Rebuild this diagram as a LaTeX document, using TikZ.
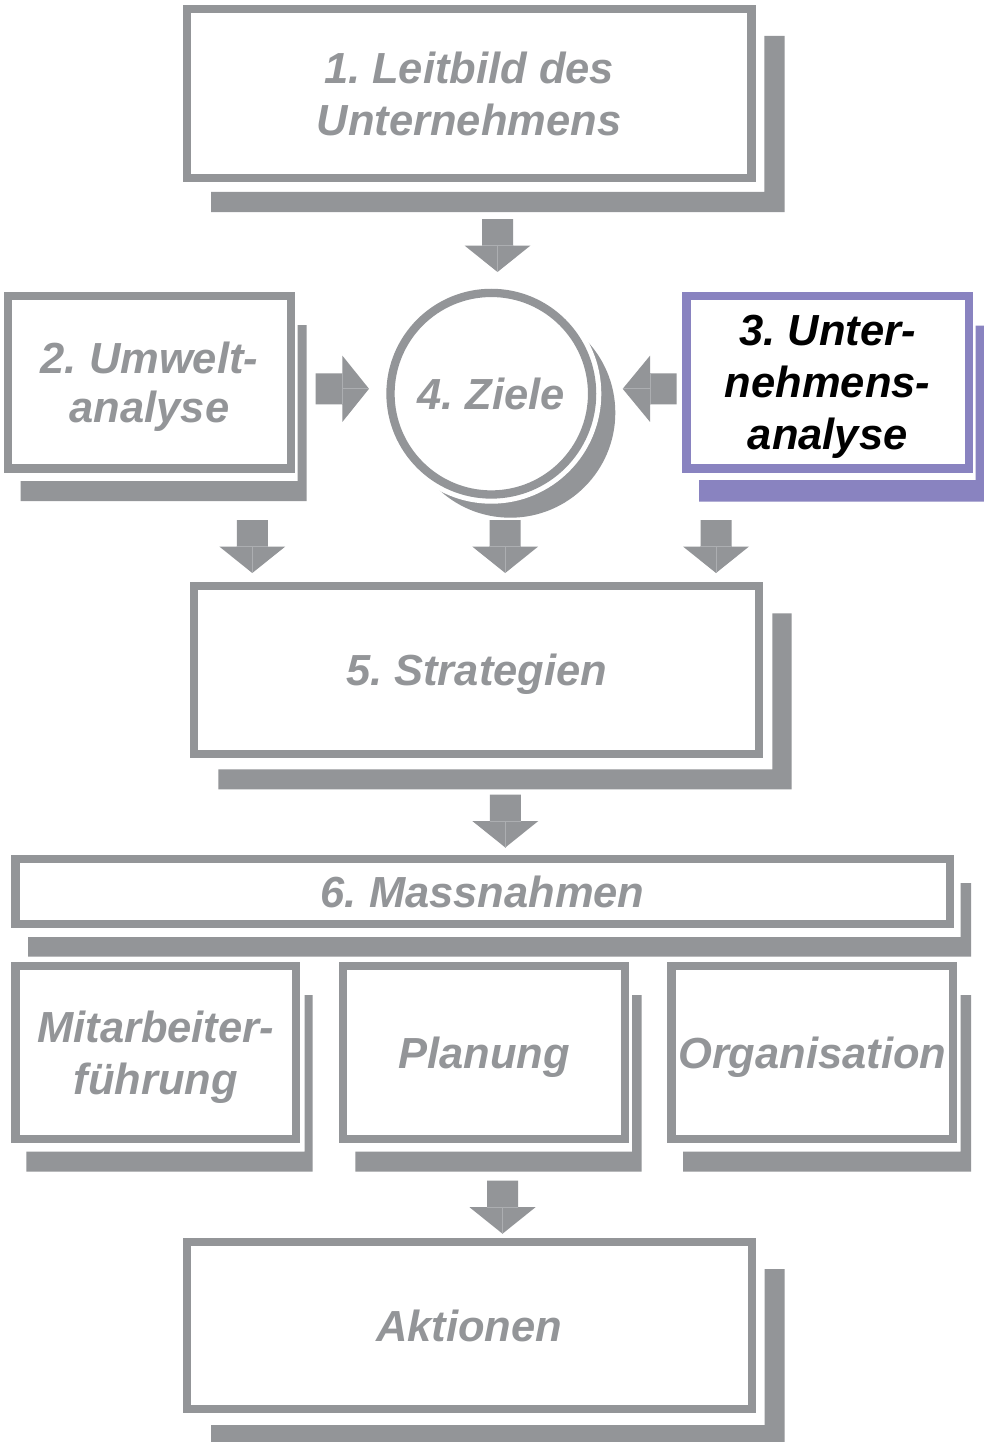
\documentclass[tikz,border=0pt]{standalone}
\usepackage{fontspec}
\setmainfont{Liberation Sans}
\usetikzlibrary{calc}
\frenchspacing

\definecolor{framegray}{RGB}{147,149,152}
\definecolor{seamgray}{RGB}{172,174,177}
\definecolor{framepurple}{RGB}{137,131,192}

\tikzset{
  panel/.style={draw=framegray, line width=8.3pt, fill=white, inner sep=0pt,
    text=framegray, align=center, text depth=0pt,
    font={\fontsize{43.5}{52}\selectfont\bfseries\itshape}},
  ring/.style={circle, draw=framegray, line width=8.3pt, fill=white, inner sep=0pt,
    minimum size=201.6pt, text=framegray,
    font={\fontsize{43.5}{52}\selectfont\bfseries\itshape}},
  blockfill/.style={fill=framegray},
  seam/.style={draw=seamgray, line width=0.7pt},
}

% rectangular panel: name, x1, x2, y1, y2, extra style, text
\newcommand{\panelbox}[7]{%
  \node[panel, #6, minimum width={#3-#2-8.3}, minimum height={#5-#4-8.3}]
    (#1) at ({(#2+#3)/2},{(#4+#5)/2}) {#7};}

% L-shaped drop shadow: colour, left, bar left, right, top, bar top, bottom
\newcommand{\shadowL}[7]{%
  \fill[#1] (#3,#5) -- (#4,#5) -- (#4,#7) -- (#2,#7) -- (#2,#6) -- (#3,#6) -- cycle;}

% block arrow pointing down: name, centre x, top y
\newcommand{\downblock}[3]{%
  \coordinate (#1) at (#2,#3);
  \fill[blockfill] ($(#1)+(-15.5,0)$) -- ++(31,0) -- ++(0,26.5) -- ++(17.5,0)
    -- ($(#1)+(0,53)$) -- ($(#1)+(-33,26.5)$) -- ++(17.5,0) -- cycle;
  \path[seam] ($(#1)+(-15.5,26.5)$) -- ++(31,0) ($(#1)+(0,26.5)$) -- ++(0,26.5);}

% block arrow pointing right: name, left x, centre y
\newcommand{\rightblock}[3]{%
  \coordinate (#1) at (#2,#3);
  \fill[blockfill] ($(#1)+(0,-15.5)$) -- ++(26.7,0) -- ++(0,-17.6)
    -- ($(#1)+(53.3,0)$) -- ($(#1)+(26.7,33.1)$) -- ++(0,-17.6) -- ($(#1)+(0,15.5)$) -- cycle;
  \path[seam] ($(#1)+(26.7,-15.5)$) -- ++(0,31) ($(#1)+(26.7,0)$) -- ++(26.6,0);}

% block arrow pointing left: name, right x, centre y
\newcommand{\leftblock}[3]{%
  \coordinate (#1) at (#2,#3);
  \fill[blockfill] ($(#1)+(0,-15.5)$) -- ++(-26.7,0) -- ++(0,-17.6)
    -- ($(#1)+(-54,0)$) -- ($(#1)+(-26.7,33.1)$) -- ++(0,-17.6) -- ($(#1)+(0,15.5)$) -- cycle;
  \path[seam] ($(#1)+(-26.7,-15.5)$) -- ++(0,31) ($(#1)+(-26.7,0)$) -- ++(-27.3,0);}

\begin{document}
\begin{tikzpicture}[x=1pt, y=-1pt]
  \path[use as bounding box, clip] (0,0) rectangle (984,1442);
  \fill[white] (0,0) rectangle (984,1442);

  % drop shadows
  \shadowL{framegray}{211}{764.4}{784.5}{36}{192}{212}
  \shadowL{framegray}{20.7}{297.7}{306.7}{325}{481}{501}
  \shadowL{framepurple}{699}{975.7}{984}{325.7}{480}{501.5}
  \shadowL{framegray}{218.4}{772.3}{791.7}{613.3}{769.3}{789.3}
  \shadowL{framegray}{28}{960.5}{971}{883}{937}{956.7}
  \shadowL{framegray}{26.4}{304.5}{312.6}{995}{1151.7}{1171.7}
  \shadowL{framegray}{355.3}{632}{641.6}{995}{1151.7}{1171.7}
  \shadowL{framegray}{683}{960.5}{971}{995}{1151.7}{1171.7}
  \shadowL{framegray}{211}{764.6}{784.7}{1269}{1425}{1442}

  % goals circle with its shadow
  \fill[framegray] (510.3,412.7) circle[radius=105];
  \fill[white] (491.3,393.7) circle[radius=110];
  \node[ring] (ziele) at (491.3,393.7) {4. Ziele};

  % panels
  \panelbox{leitbild}{182.5}{755.6}{5}{182}{}{1. Leitbild des\\Unternehmens}
  \panelbox{umwelt}{4}{295}{291.7}{472.7}{font={\fontsize{43.5}{49}\selectfont\bfseries\itshape}}{2. Umwelt-\\analyse}
  \panelbox{unternehmen}{682.3}{973}{291.7}{472.7}{draw=framepurple, text=black}{3. Unter-\\nehmens-\\analyse}
  \panelbox{strategien}{190}{763.3}{582}{758}{}{5. Strategien}
  \panelbox{massnahmen}{11.3}{954}{855}{928.3}{}{6. Massnahmen}
  \panelbox{fuehrung}{11.3}{300}{961.7}{1143.3}{}{Mitarbeiter-\\führung}
  \panelbox{planung}{339}{629}{961.7}{1143.3}{}{Planung}
  \panelbox{organisation}{667.3}{957.3}{961.7}{1143.3}{}{Organisation}
  \panelbox{aktionen}{182.5}{755.8}{1237.7}{1413.3}{}{Aktionen}

  % block arrows
  \downblock{leitbildziele}{497.5}{219}
  \rightblock{umweltziele}{315.7}{388.8}
  \leftblock{unternehmenziele}{676.7}{388.8}
  \downblock{umweltstrat}{252.3}{520}
  \downblock{zielestrat}{505.2}{520}
  \downblock{unternehmenstrat}{716}{520}
  \downblock{stratmass}{505.3}{794.5}
  \downblock{massakt}{502.5}{1180.7}
\end{tikzpicture}
\end{document}
